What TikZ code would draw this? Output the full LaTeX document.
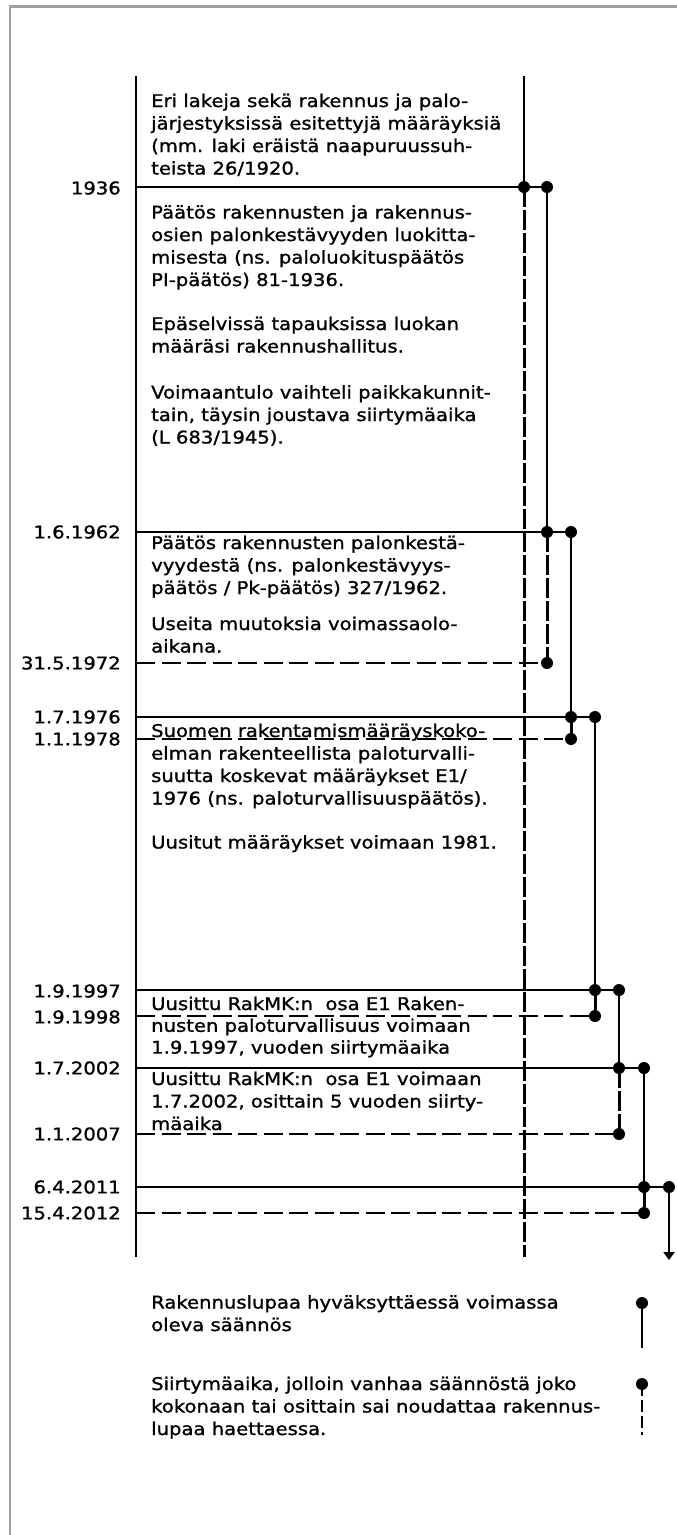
\documentclass[tikz,border=0pt]{standalone}
\usepackage{fontspec}
\setmainfont{DejaVu Sans}[FakeStretch=1.12,FakeBold=1.2]
\usetikzlibrary{arrows.meta}
\tikzset{
  frameline/.style={draw=gray!75, line width=2.5pt},
  axisline/.style={line width=2.8pt, line cap=butt},
  solidln/.style={line width=2.8pt},
  dashln/.style={line width=2.8pt, dash pattern=on 19pt off 6.5pt},
  vdashln/.style={line width=3pt, dash pattern=on 19.5pt off 3.5pt},
  ldashln/.style={line width=2.6pt, dash pattern=on 12pt off 4pt},
  dotn/.style={circle, fill=black, inner sep=0pt, minimum size=12pt},
  para/.style={anchor=base west, align=left, inner sep=0pt, font=\fontsize{17.5}{22.5}\selectfont},
  datelbl/.style={anchor=east, inner sep=0pt, font=\fontsize{17.5}{22.5}\selectfont},
}
\begin{document}
\begin{tikzpicture}[x=1pt,y=-1pt]
\useasboundingbox (0,0) rectangle (677,1535);
% frame
\draw[frameline] (10,1535) -- (10,6.5) -- (677,6.5);

% axis coordinates
\coordinate (axTop) at (136,76);
\coordinate (axBot) at (136,1257);
\coordinate (dTop) at (524,76);
\coordinate (dBot) at (524,1257);
\coordinate (arrEnd) at (669,1260);

% left ends of horizontal lines
\coordinate (L1) at (136,187);
\coordinate (L2) at (136,532);
\coordinate (L3) at (136,663);
\coordinate (L4) at (136,717);
\coordinate (L5) at (136,739);
\coordinate (L6) at (136,990);
\coordinate (L7) at (136,1016);
\coordinate (L8) at (136,1068);
\coordinate (L9) at (136,1134);
\coordinate (L10) at (136,1187);
\coordinate (L11) at (136,1213);

% dots
\node[dotn] (a1) at (524,187) {};
\node[dotn] (b1) at (547,187) {};
\node[dotn] (b2) at (547,532) {};
\node[dotn] (c2) at (571,532) {};
\node[dotn] (b3) at (547,663) {};
\node[dotn] (c4) at (571,717) {};
\node[dotn] (e4) at (595,717) {};
\node[dotn] (c5) at (571,739) {};
\node[dotn] (e6) at (595,990) {};
\node[dotn] (f6) at (619,990) {};
\node[dotn] (e7) at (595,1016) {};
\node[dotn] (f8) at (619,1068) {};
\node[dotn] (g8) at (644,1068) {};
\node[dotn] (f9) at (619,1134) {};
\node[dotn] (g10) at (644,1187) {};
\node[dotn] (h10) at (669,1187) {};
\node[dotn] (g11) at (644,1213) {};

% main verticals
\draw[axisline] (axTop) -- (axBot);
\draw[solidln] (dTop) -- (a1.center);
\draw[vdashln] (a1.center) -- (dBot);

% horizontal lines
\draw[solidln] (L1) -- (b1.center);
\draw[solidln] (L2) -- (c2.center);
\draw[dashln] (L3) -- (b3.center);
\draw[solidln] (L4) -- (e4.center);
\draw[dashln] (L5) -- (c5.center);
\draw[solidln] (L6) -- (f6.center);
\draw[dashln] (L7) -- (e7.center);
\draw[solidln] (L8) -- (g8.center);
\draw[dashln] (L9) -- (f9.center);
\draw[solidln] (L10) -- (h10.center);
\draw[dashln] (L11) -- (g11.center);

% right verticals
\draw[solidln] (b1.center) -- (b2.center);
\draw[vdashln] (b2.center) -- (b3.center);
\draw[solidln] (c2.center) -- (c4.center);
\draw[vdashln] (c4.center) -- (c5.center);
\draw[solidln] (e4.center) -- (e6.center);
\draw[vdashln] (e6.center) -- (e7.center);
\draw[solidln] (f6.center) -- (f8.center);
\draw[vdashln] (f8.center) -- (f9.center);
\draw[solidln] (g8.center) -- (g10.center);
\draw[vdashln] (g10.center) -- (g11.center);
\draw[solidln, -{Triangle[width=11pt,length=8pt]}] (h10.center) -- (arrEnd);

% date labels
\node[datelbl] (t1) at (121,188) {1936};
\node[datelbl] (t2) at (121,532) {1.6.1962};
\node[datelbl] (t3) at (121,663) {31.5.1972};
\node[datelbl] (t4) at (121,717) {1.7.1976};
\node[datelbl] (t5) at (121,739) {1.1.1978};
\node[datelbl] (t6) at (121,991) {1.9.1997};
\node[datelbl] (t7) at (121,1017) {1.9.1998};
\node[datelbl] (t8) at (121,1068) {1.7.2002};
\node[datelbl] (t9) at (121,1134) {1.1.2007};
\node[datelbl] (t10) at (121,1187) {6.4.2011};
\node[datelbl] (t11) at (121,1213) {15.4.2012};

% text blocks (anchor = baseline of last line)
\node[para] (p1) at (151,174.5) {Eri lakeja sekä rakennus ja palo-\\järjestyksissä esitettyjä määräyksiä\\(mm. laki eräistä naapuruussuh-\\teista 26/1920.};
\node[para] (p2a) at (151,286) {Päätös rakennusten ja rakennus-\\osien palonkestävyyden luokitta-\\misesta (ns. paloluokituspäätös\\PI-päätös) 81-1936.};
\node[para] (p2b) at (151,352.5) {Epäselvissä tapauksissa luokan\\määräsi rakennushallitus.};
\node[para] (p2c) at (151,443.5) {Voimaantulo vaihteli paikkakunnit-\\tain, täysin joustava siirtymäaika\\(L 683/1945).};
\node[para] (p3a) at (151,594) {Päätös rakennusten palonkestä-\\vyydestä (ns. palonkestävyys-\\päätös / Pk-päätös) 327/1962.};
\node[para] (p3b) at (151,652.5) {Useita muutoksia voimassaolo-\\aikana.};
\node[para] (p4a) at (151,804.5) {Suomen rakentamismääräyskoko-\\elman rakenteellista paloturvalli-\\suutta koskevat määräykset E1/\\1976 (ns. paloturvallisuuspäätös).};
\node[para] (p4b) at (151,848.5) {Uusitut määräykset voimaan 1981.};
\node[para, font=\fontsize{17.5}{21.8}\selectfont] (p5) at (151,1053.6) {Uusittu RakMK:n~ osa E1 Raken-\\nusten paloturvallisuus voimaan\\1.9.1997, vuoden siirtymäaika};
\node[para] (p6) at (151,1130) {Uusittu RakMK:n~ osa E1 voimaan\\1.7.2002, osittain 5 vuoden siirty-\\mäaika};

% legend
\node[para] (lg1) at (151,1331) {Rakennuslupaa hyväksyttäessä voimassa\\oleva säännös};
\node[para] (lg2) at (151,1435) {Siirtymäaika, jolloin vanhaa säännöstä joko\\kokonaan tai osittain sai noudattaa rakennus-\\lupaa haettaessa.};
\node[dotn] (ls1) at (642,1303) {};
\coordinate (le1) at (642,1348);
\draw[solidln] (ls1.center) -- (le1);
\node[dotn] (ls2) at (642,1384) {};
\coordinate (le2) at (642,1435);
\draw[ldashln] (ls2.center) -- (le2);
\end{tikzpicture}
\end{document}
